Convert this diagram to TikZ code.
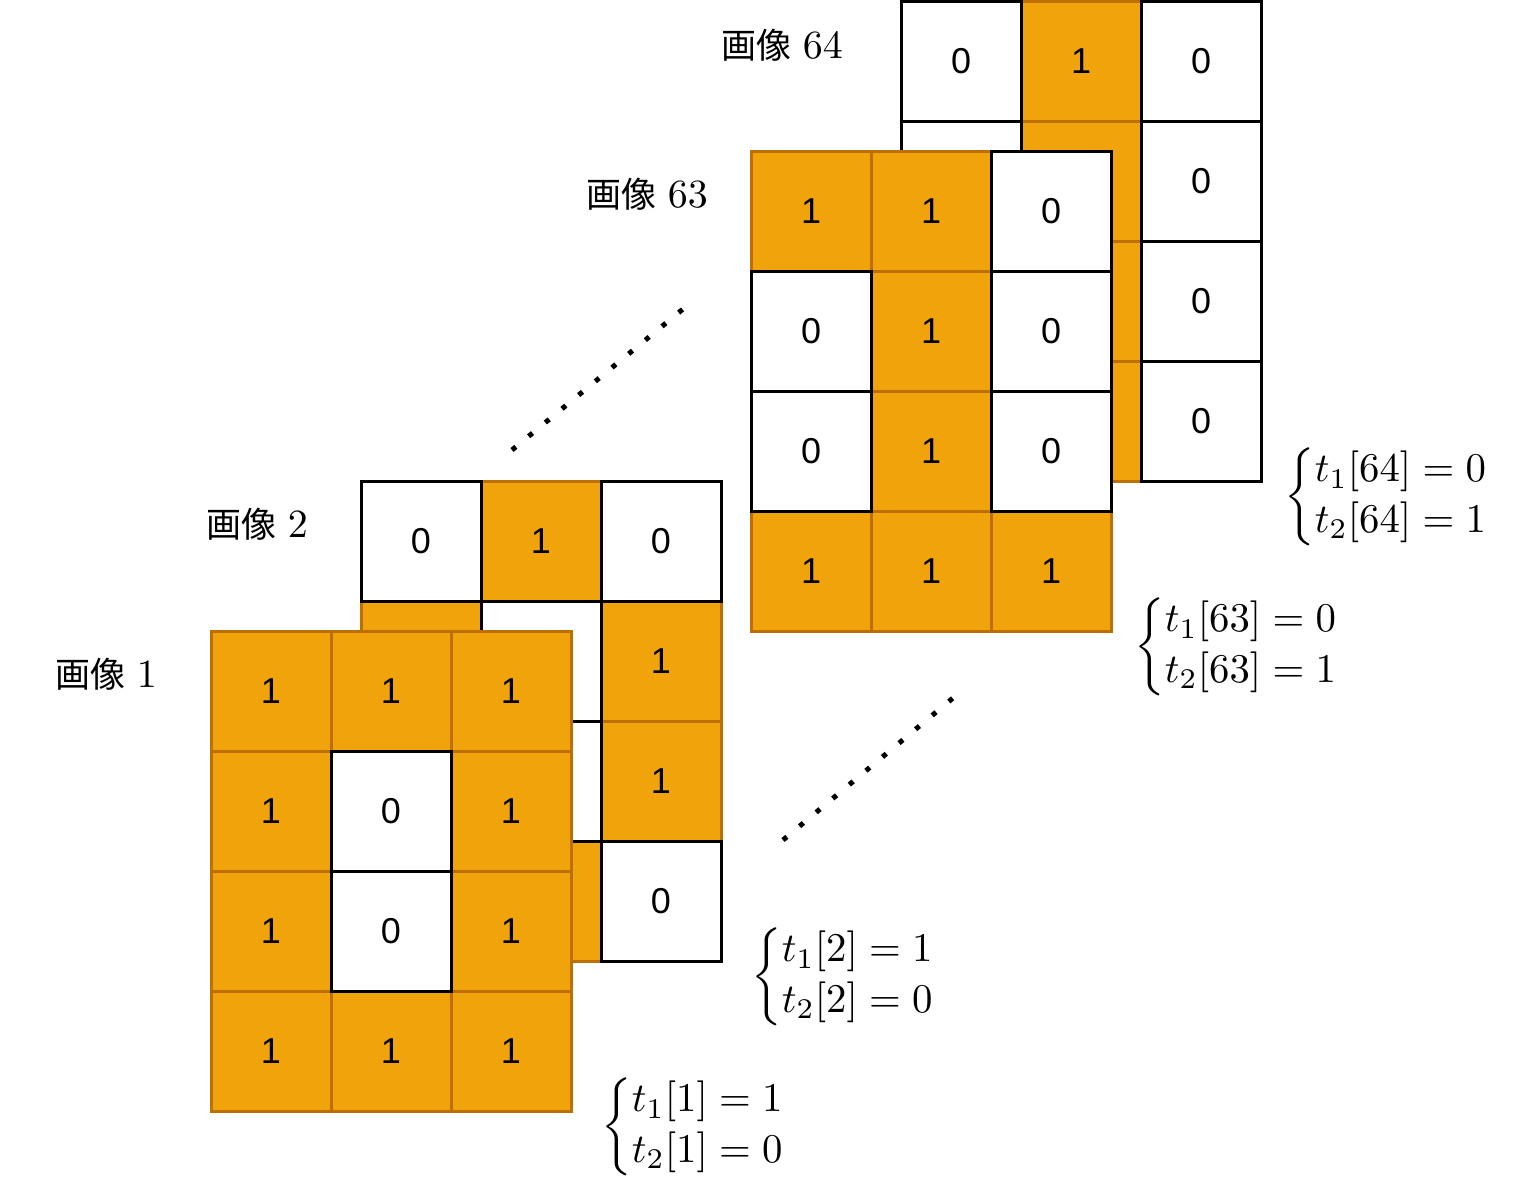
\documentclass[tikz,border=0pt]{standalone}
\usepackage{amsmath}
\usepackage{graphicx}
\usepackage{fontspec}
\newfontfamily\cjk{Noto Sans CJK JP}
\newfontfamily\cellfont{Liberation Sans}
\definecolor{ofill}{HTML}{F0A30A}
\definecolor{oline}{HTML}{BD7000}
\tikzset{
  cellbox/.style={anchor=north west, minimum width=120pt, minimum height=120pt,
    inner sep=0pt, outer sep=0pt, line width=3pt,
    font=\cellfont\fontsize{36}{43}\selectfont},
  onecell/.style={cellbox, fill=ofill, draw=oline},
  zerocell/.style={cellbox, fill=white, draw=black},
  lbl/.style={anchor=base east, inner sep=0pt, font=\cjk\fontsize{35}{42}\selectfont},
  formula/.style={anchor=west, inner sep=0pt},
  dotline/.style={line width=5pt, dash pattern=on 5pt off 16.6pt, line cap=butt}
}
\newcommand\mygrid[4]{%
  \foreach \v [count=\k from 0] in {#4}{%
    \pgfmathtruncatemacro\rr{div(\k,3)}%
    \pgfmathtruncatemacro\cc{mod(\k,3)}%
    \ifnum\v=1 \node[onecell] (#1-\k) at (#2+120*\cc, #3+120*\rr) {1};\fi
  }%
  \foreach \v [count=\k from 0] in {#4}{%
    \pgfmathtruncatemacro\rr{div(\k,3)}%
    \pgfmathtruncatemacro\cc{mod(\k,3)}%
    \ifnum\v=0 \node[zerocell] (#1-\k) at (#2+120*\cc, #3+120*\rr) {0};\fi
  }%
}
\newcommand\tcases[3]{\scalebox{4.08}{\fontsize{10}{12}\selectfont$\renewcommand\arraystretch{1.03}\left\{\begin{array}{@{}l@{}}t_1[#1]=#2\\t_2[#1]=#3\end{array}\right.$}}
\newcommand\lnum[1]{\hspace{11pt}\scalebox{4}{\fontsize{10}{12}\selectfont$#1$}}
\begin{document}
\begin{tikzpicture}[x=1pt, y=-1pt]
\useasboundingbox (0,0) rectangle (1530,1179);
% image 64
\mygrid{gA}{901}{1}{0,1,0, 0,1,0, 0,1,0, 0,1,0}
\node[lbl] (lA) at (843,58) {画像\lnum{64}};
% image 63
\mygrid{gB}{751}{151}{1,1,0, 0,1,0, 0,1,0, 1,1,1}
\node[lbl] (lB) at (708,207) {画像\lnum{63}};
% dotted lines
\coordinate (d1s) at (512,450);
\coordinate (d1e) at (683,309);
\coordinate (d2s) at (783,840);
\coordinate (d2e) at (953,698);
\draw[dotline] (d1s) -- (d1e);
\draw[dotline] (d2s) -- (d2e);
% image 2
\mygrid{gC}{361}{481}{0,1,0, 1,0,1, 0,0,1, 1,1,0}
\node[lbl] (lC) at (308,537) {画像\lnum{2}};
% image 1
\mygrid{gD}{211}{631}{1,1,1, 1,0,1, 1,0,1, 1,1,1}
\node[lbl] (lD) at (157,687) {画像\lnum{1}};
% formulas
\node[formula] (fA) at (1284,497) {\tcases{64}{0}{1}};
\node[formula] (fB) at (1134,647) {\tcases{63}{0}{1}};
\node[formula] (fC) at (751,977) {\tcases{2}{1}{0}};
\node[formula] (fD) at (601,1127) {\tcases{1}{1}{0}};
\end{tikzpicture}
\end{document}
